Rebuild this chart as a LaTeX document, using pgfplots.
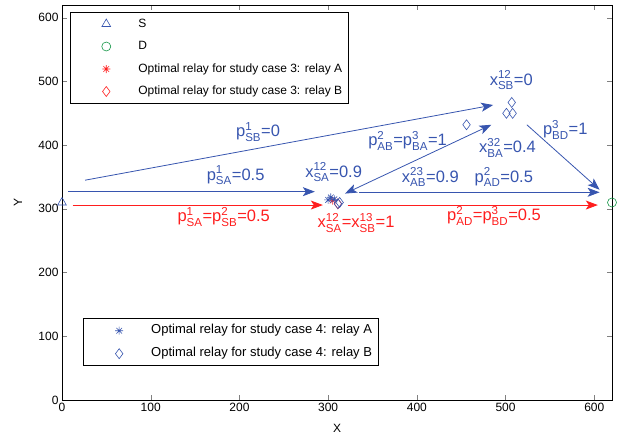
\documentclass[border=0pt]{standalone}
\usepackage{pgfplots}
\pgfplotsset{compat=1.18}
\usepackage{amsmath}
\usepackage{fontspec}
\setmainfont{Liberation Sans}
\usetikzlibrary{arrows.meta}
\definecolor{mblue}{RGB}{55,85,175}
\definecolor{mred}{RGB}{255,30,30}
\definecolor{mgreen}{RGB}{20,150,70}
\pgfdeclareplotmark{mstar}{%
 \pgfpathmoveto{\pgfqpoint{-\pgfplotmarksize}{0pt}}\pgfpathlineto{\pgfqpoint{\pgfplotmarksize}{0pt}}%
 \pgfpathmoveto{\pgfqpoint{0pt}{-\pgfplotmarksize}}\pgfpathlineto{\pgfqpoint{0pt}{\pgfplotmarksize}}%
 \pgfpathmoveto{\pgfqpoint{-.707\pgfplotmarksize}{-.707\pgfplotmarksize}}\pgfpathlineto{\pgfqpoint{.707\pgfplotmarksize}{.707\pgfplotmarksize}}%
 \pgfpathmoveto{\pgfqpoint{-.707\pgfplotmarksize}{.707\pgfplotmarksize}}\pgfpathlineto{\pgfqpoint{.707\pgfplotmarksize}{-.707\pgfplotmarksize}}%
 \pgfusepathqstroke}
\newcommand{\ps}[3]{#1\ensuremath{^{\text{#2}}_{\text{#3}}}}
\tikzset{ann/.style={anchor=base west, inner sep=0pt, font=\fontsize{16.5}{19}\selectfont},
 arr/.style={line width=0.8pt, -{Stealth[length=12pt,width=9pt,inset=3pt]}},
 darr/.style={line width=0.8pt, {Stealth[length=12pt,width=9pt,inset=3pt]}-{Stealth[length=12pt,width=9pt,inset=3pt]}}}
\pgfplotsset{common/.style={scale only axis, width=550pt, height=395pt,
 xmin=0, xmax=620, ymin=0, ymax=620,
 xtick={0,100,...,600}, ytick={0,100,...,600},
 tick align=inside, major tick length=5pt,
 tick label style={font=\fontsize{12}{14}\selectfont},
 /pgf/number format/assume math mode=true,
 legend cell align=left,
 legend image code/.code={\path[draw=none,fill=none] (0pt,0pt) rectangle (62pt,0pt); \path[##1, draw opacity=1] plot[only marks] coordinates {(30pt,0pt)};},
 legend style={draw=black, line width=0.6pt, font=\fontsize{12}{14}\selectfont, inner sep=6pt,
   nodes={inner sep=0pt, text height=9pt, text depth=3pt}, row sep=10.5pt, column sep=0pt},
}}
\begin{document}
\begin{tikzpicture}
\begin{axis}[common, name=ax,
 xlabel={X}, ylabel={Y},
 label style={font=\fontsize{12}{14}\selectfont},
 xlabel style={at={(axis description cs:0.5,0)}, anchor=center, yshift=-28pt},
 ylabel style={at={(axis description cs:-0.08,0.5)}, anchor=center},
 legend style={at={(0.0145,0.983)}, anchor=north west},
]
\addplot[only marks, mark=triangle, mark size=5pt, mblue, line width=0.6pt] coordinates {(0,310)};
\addlegendentry{S}
\addplot[only marks, mark=o, mark size=4.5pt, mgreen, line width=0.6pt] coordinates {(620,310)};
\addlegendentry{D}
\addplot[only marks, mark=mstar, mark size=4pt, mred, line width=0.6pt] coordinates {(305,313)};
\addlegendentry{Optimal relay for study case 3: relay A}
\addplot[only marks, mark=diamond, mark size=5pt, mred, line width=0.6pt] coordinates {(311,308)};
\addlegendentry{Optimal relay for study case 3: relay B}
% arrows
\addplot[mblue, arr] coordinates {(26,345) (486,463)};
\addplot[mblue, arr] coordinates {(7,327) (285,327)};
\addplot[mred, arr] coordinates {(12,306) (294,306)};
\addplot[mblue, darr] coordinates {(319,324) (484,432)};
\addplot[mblue, arr] coordinates {(335,326) (606,326)};
\addplot[mblue, arr] coordinates {(524,432) (606,330)};
\addplot[mred, arr] coordinates {(322,306) (604,306)};
% annotations
\node[ann, mblue] at (axis cs:196,413) {\ps{p}{1}{SB}=0};
\node[ann, mblue] at (axis cs:163,345) {\ps{p}{1}{SA}=0.5};
\node[ann, mred] at (axis cs:130,280) {\ps{p}{1}{SA}=\ps{p}{2}{SB}=0.5};
\node[ann, mblue] at (axis cs:274,350) {\ps{x}{12}{SA}=0.9};
\node[ann, mred] at (axis cs:288,270) {\ps{x}{12}{SA}=\ps{x}{13}{SB}=1};
\node[ann, mblue] at (axis cs:345,399) {\ps{p}{2}{AB}=\ps{p}{3}{BA}=1};
\node[ann, mblue] at (axis cs:383,342) {\ps{x}{23}{AB}=0.9};
\node[ann, mblue] at (axis cs:470,388) {\ps{x}{32}{BA}=0.4};
\node[ann, mblue] at (axis cs:465,342) {\ps{p}{2}{AD}=0.5};
\node[ann, mblue] at (axis cs:542,416) {\ps{p}{3}{BD}=1};
\node[ann, mblue] at (axis cs:482,494) {\ps{x}{12}{SB}=0};
\node[ann, mred] at (axis cs:434,281) {\ps{p}{2}{AD}=\ps{p}{3}{BD}=0.5};
\end{axis}
\begin{axis}[common, hide axis,
 legend style={at={(0.038,0.086)}, anchor=south west, font=\fontsize{13}{15}\selectfont, row sep=11pt},
]
\addplot[only marks, mark=mstar, mark size=4pt, mblue, line width=0.6pt] coordinates {(300,314) (303,318) (307,315)};
\addlegendentry{Optimal relay for study case 4: relay A}
\addplot[only marks, mark=diamond, mark size=5pt, mblue, line width=0.6pt] coordinates {(311,308) (313,310) (456,432) (501,450) (508,450) (507,467)};
\addlegendentry{Optimal relay for study case 4: relay B}
\end{axis}
\pgfresetboundingbox
\path ([xshift=-62pt,yshift=-39pt]ax.south west) rectangle ([xshift=14pt,yshift=5pt]ax.north east);
\end{tikzpicture}
\end{document}
